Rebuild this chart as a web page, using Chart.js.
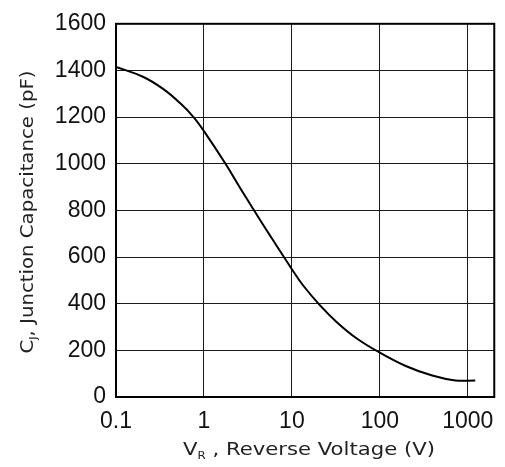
<!DOCTYPE html>
<html>
<head>
<meta charset="utf-8">
<script src="https://cdn.jsdelivr.net/npm/chart.js@4"></script>
<style>
  html, body { margin: 0; padding: 0; background: #fff; }
  canvas { display: block; }
</style>
</head>
<body>
<canvas id="capChart" width="505" height="467"></canvas>
<script>
// reverse voltage (V) and junction capacitance (pF)
const voltage = [0.1, 0.205, 0.346, 0.535, 0.757, 1, 1.73, 2.56, 3.62, 5.58, 10, 13.5, 20.9, 32.2, 54.2, 100, 197, 394, 723, 1216];
const capacitance = [1415, 1372, 1320, 1260, 1201, 1140, 1004, 898, 807, 695, 548, 477, 393, 322, 252, 190, 133, 92, 71, 71];
const xTicks = [0.1, 1, 10, 100, 1000];
const yTicks = [0, 200, 400, 600, 800, 1000, 1200, 1400, 1600];

// frame round the plot area, and axis titles with subscripts
const framePlugin = {
  id: 'frame',
  afterDraw(chart) {
    const { ctx, chartArea: a } = chart;
    ctx.save();
    ctx.strokeStyle = '#000';
    ctx.lineWidth = 2;
    ctx.strokeRect(a.left, a.top, a.right - a.left, a.bottom - a.top);
    ctx.restore();
  },
};

function drawSubTitle(ctx, main, sub, rest, width) {
  ctx.font = '18px "DejaVu Sans"';
  const w1 = ctx.measureText(main).width;
  ctx.font = '10px "DejaVu Sans"';
  const w2 = ctx.measureText(sub).width;
  ctx.font = '18px "DejaVu Sans"';
  const w3 = ctx.measureText(rest).width;
  const total = w1 + w2 + w3;
  ctx.scale(width / total, 1);
  let x = -total / 2;
  ctx.textAlign = 'left';
  ctx.textBaseline = 'alphabetic';
  ctx.fillText(main, x, 0);
  x += w1;
  ctx.font = '10px "DejaVu Sans"';
  ctx.fillText(sub, x, 4);
  x += w2;
  ctx.font = '18px "DejaVu Sans"';
  ctx.fillText(rest, x, 0);
}

const titlePlugin = {
  id: 'titles',
  afterDraw(chart) {
    const ctx = chart.ctx;
    ctx.save();
    ctx.fillStyle = '#222';
    ctx.translate(309, 455);
    drawSubTitle(ctx, 'V', 'R', ' , Reverse Voltage (V)', 252);
    ctx.restore();

    ctx.save();
    ctx.fillStyle = '#222';
    ctx.translate(33, 212);
    ctx.rotate(-Math.PI / 2);
    drawSubTitle(ctx, 'C', 'J', ', Junction Capacitance (pF)', 283);
    ctx.restore();
  },
};

new Chart(document.getElementById('capChart'), {
  type: 'line',
  data: {
    datasets: [
      {
        data: voltage.map((v, i) => ({ x: v, y: capacitance[i] })),
        borderColor: '#000',
        borderWidth: 2,
        pointRadius: 0,
        tension: 0.4,
        fill: false,
      },
    ],
  },
  options: {
    responsive: false,
    animation: false,
    layout: { padding: { top: 17, right: 9, left: 0, bottom: 0 } },
    plugins: { legend: { display: false }, tooltip: { enabled: false } },
    scales: {
      x: {
        type: 'logarithmic',
        min: 0.1,
        max: 2000,
        afterBuildTicks: (s) => {
          s.ticks = xTicks.map((v) => ({ value: v }));
        },
        afterFit: (s) => {
          s.height = 70;
        },
        border: { display: false },
        grid: { color: '#1a1a1a', lineWidth: 1, drawTicks: false },
        ticks: {
          color: '#111',
          padding: 11,
          maxRotation: 0,
          autoSkip: false,
          font: { family: '"Liberation Sans", Arial, sans-serif', size: 23 },
          callback: (v) => String(v),
        },
      },
      y: {
        min: 0,
        max: 1600,
        afterBuildTicks: (s) => {
          s.ticks = yTicks.map((v) => ({ value: v }));
        },
        afterFit: (s) => {
          s.width = 116;
        },
        border: { display: false },
        grid: { color: '#1a1a1a', lineWidth: 1, drawTicks: false },
        ticks: {
          color: '#111',
          padding: 10,
          font: { family: '"Liberation Sans", Arial, sans-serif', size: 23 },
          callback: (v) => String(v),
        },
      },
    },
  },
  plugins: [framePlugin, titlePlugin],
});
</script>
</body>
</html>
